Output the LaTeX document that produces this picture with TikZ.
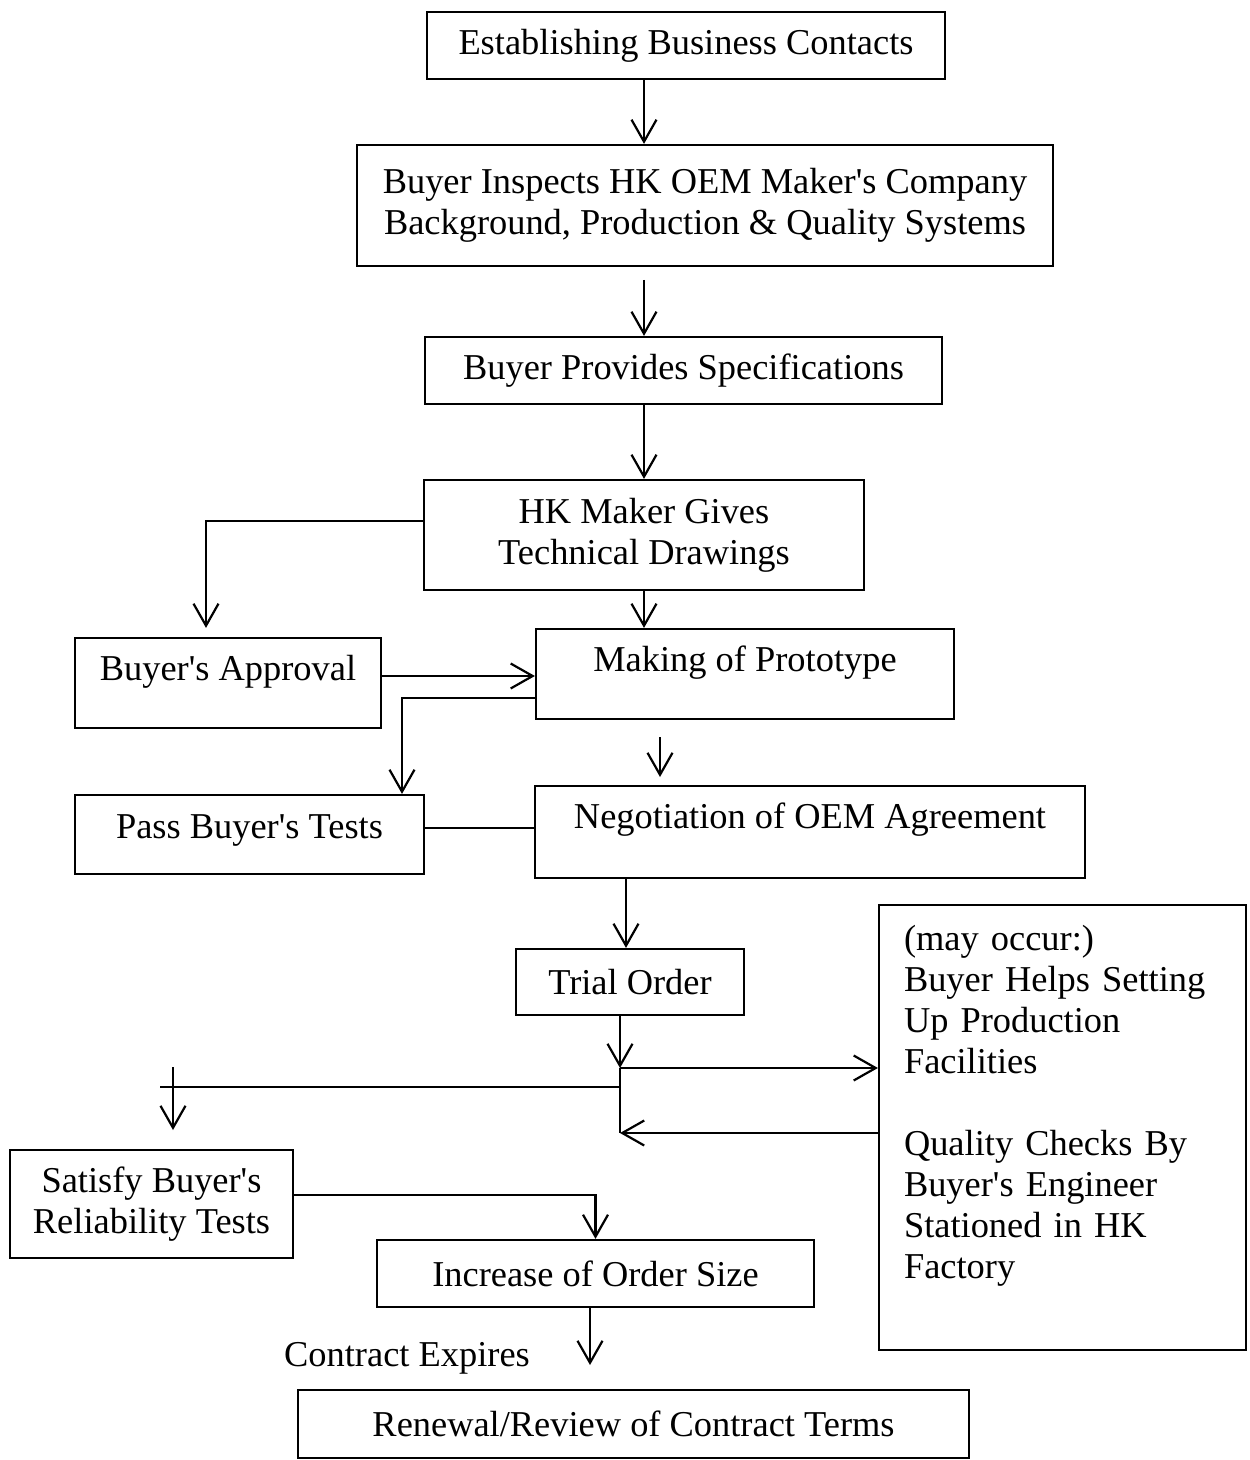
\documentclass[tikz,border=0pt]{standalone}
\usepackage{fontspec}
\setmainfont{Liberation Serif}
\usetikzlibrary{arrows.meta}
\newcommand{\apos}{\textquotesingle}

\begin{document}
\begin{tikzpicture}[x=0.5pt, y=-0.5pt, line width=1.1pt,
  >={Straight Barb[length=11pt,width=12.5pt]},
  every node/.style={font=\fontsize{18.2}{20.5}\selectfont, inner sep=0pt},
  box/.style={draw, rectangle, align=center}]
\useasboundingbox (0,0) rectangle (1249,1460);
\node[box, minimum width=259pt, minimum height=33.5pt] (Contacts) at (686,45.5) {Establishing Business Contacts};
\node[box, minimum width=348pt, minimum height=60.5pt] (Inspect) at (705,205.5) {Buyer Inspects HK OEM Maker\apos s Company\\Background, Production \& Quality Systems};
\node[box, minimum width=258.5pt, minimum height=33.5pt] (Specs) at (683.5,370.5) {Buyer Provides Specifications};
\node[box, minimum width=220pt, minimum height=55pt] (Drawings) at (644,535) {HK Maker Gives\\Technical Drawings};
\node[box, minimum width=153pt, minimum height=45pt, text depth=15pt] (Approval) at (228,683) {Buyer\apos s Approval};
\node[box, minimum width=209pt, minimum height=45pt, text depth=15pt] (Proto) at (745,674) {Making of Prototype};
\node[box, minimum width=174.5pt, minimum height=39.5pt, text depth=8pt] (Tests) at (249.5,834.5) {Pass Buyer\apos s Tests};
\node[box, minimum width=275pt, minimum height=46pt, text depth=16pt] (Agree) at (810,832) {Negotiation of OEM Agreement};
\node[box, minimum width=114pt, minimum height=33pt] (Trial) at (630,982) {Trial Order};
\node[box, align=left, text width=158.5pt, minimum width=183.5pt, minimum height=222.5pt, text depth=190pt] (Side) at (1062.5,1127.5) {(may occur:)\\Buyer Helps Setting\\Up Production\\Facilities\\[20.5pt]Quality Checks By\\Buyer\apos s Engineer\\Stationed in HK\\Factory};
\node[box, minimum width=141.5pt, minimum height=54pt] (Reliab) at (151.5,1204) {Satisfy Buyer\apos s\\Reliability Tests};
\node[box, minimum width=218.5pt, minimum height=33.5pt] (Increase) at (595.5,1273.5) {Increase of Order Size};
\node (Expire) at (407,1358) {Contract Expires};
\node[box, minimum width=335.5pt, minimum height=34pt] (Renew) at (633.5,1424) {Renewal/Review of Contract Terms};
\coordinate (M1) at (660,737);
\coordinate (M2) at (660,777);
\coordinate (J1) at (620,1068);
\coordinate (J2) at (620,1087);
\coordinate (J3) at (620,1133);
\coordinate (L1) at (160,1087);
\coordinate (L2) at (173,1067);
\coordinate (L3) at (173,1130);
\coordinate (E1) at (590,1365);
\draw[->] (Contacts.south -| Drawings) -- (Inspect.north -| Drawings);
\draw[->] (Drawings |- 0,280) -- (Specs.north -| Drawings);
\draw[->] (Specs.south -| Drawings) -- (Drawings.north);
\draw[->, shorten >=4.5pt] (Drawings.west |- 0,521) -| (Approval.north -| 206,0);
\draw[->] (Drawings.south) -- (Drawings.south |- Proto.north);
\draw[->] (Approval.east |- 0,676) -- (Proto.west |- 0,676);
\draw[->] (Proto.west |- 0,698) -| (Tests.north -| 402,0);
\draw[->] (M1) -- (M2);
\draw (Tests.east |- 0,828) -- (Agree.west |- 0,828);
\draw[->] (Agree.south -| 626,0) -- (Trial.north -| 626,0);
\draw[->] (Trial.south -| J1) -- (J1);
\draw (J1) -- (J3);
\draw[->] (J1) -- (J1 -| Side.west);
\draw[->] (Side.west |- J3) -- (J3);
\draw (J2) -- (L1);
\draw[->] (L2) -- (L3);
\draw[->] (Reliab.east |- 0,1195) -| (Increase.north);
\draw[->] (Increase.south -| E1) -- (E1);
\end{tikzpicture}
\end{document}
